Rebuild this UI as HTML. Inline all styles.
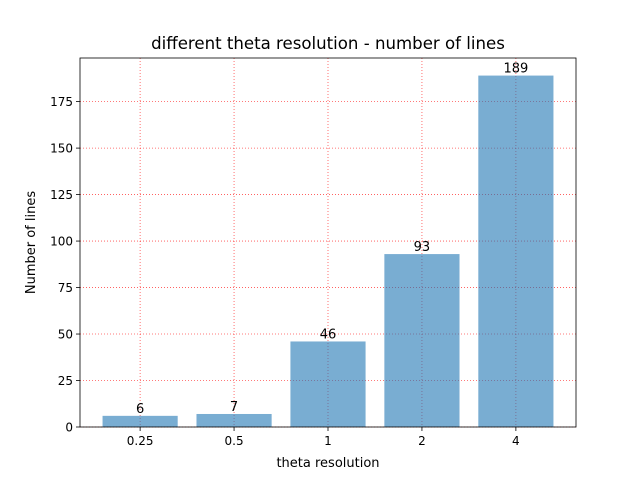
<!DOCTYPE html>
<html><head><meta charset="utf-8"><style>
body{margin:0;background:#fff;}
svg text{font-family:"DejaVu Sans","Liberation Sans",sans-serif;}
</style></head><body>
<svg id="chart" width="640" height="480" xmlns="http://www.w3.org/2000/svg">
<rect width="640" height="480" fill="#fff"/>
<text x="328" y="49" text-anchor="middle" font-size="16.6" fill="#000">different theta resolution - number of lines</text>
<text x="328" y="467" text-anchor="middle" font-size="13">theta resolution</text>
<text transform="translate(35,242.5) rotate(-90)" text-anchor="middle" font-size="13">Number of lines</text>
<g id="grid"></g><g id="bars"></g><g id="axes"></g>
</svg>
<script>
const categories = ["0.25","0.5","1","2","4"];
const values = [6,7,46,93,189];
const yTicks = [0,25,50,75,100,125,150,175];

const L=80,R=576,T=58,B=427;
const ymax=189*1.05;
const xmin=-0.64,xmax=4.64;
const sx=i=>L+(i-xmin)/(xmax-xmin)*(R-L);
const sy=v=>B-v/ymax*(B-T);
const NS="http://www.w3.org/2000/svg";
function mk(tag,attrs,parent,text){const e=document.createElementNS(NS,tag);for(const k in attrs)e.setAttribute(k,attrs[k]);if(text!==undefined)e.textContent=text;document.getElementById(parent).appendChild(e);return e;}

values.forEach((v,i)=>{
  const b=mk('rect',{x:sx(i-0.4),y:sy(v),width:sx(i+0.4)-sx(i-0.4),height:B-sy(v),fill:'#1f77b4','fill-opacity':0.6},'bars');
  
  
  const t=mk('text',{x:sx(i),y:sy(v)-3,'text-anchor':'middle','font-size':13},'bars',String(v));
  
  
});
categories.forEach((c,i)=>{
  const x=sx(i);
  const g=mk('line',{x1:x,x2:x,y1:T,y2:B,stroke:'red','stroke-opacity':0.7,'stroke-width':0.8,'stroke-dasharray':'1,2'},'grid');
  
  
  mk('line',{x1:x,x2:x,y1:B,y2:B+4,stroke:'#000','stroke-width':0.8},'axes');
  const t=mk('text',{x:x,y:B+18,'text-anchor':'middle','font-size':12},'axes',c);
  
  
});
yTicks.forEach(v=>{
  const y=sy(v);
  const g=mk('line',{x1:L,x2:R,y1:y,y2:y,stroke:'red','stroke-opacity':0.7,'stroke-width':0.8,'stroke-dasharray':'1,2'},'grid');
  
  
  mk('line',{x1:L-4,x2:L,y1:y,y2:y,stroke:'#000','stroke-width':0.8},'axes');
  const t=mk('text',{x:L-7,y:y+4.5,'text-anchor':'end','font-size':12},'axes',String(v));
  
  
});
const f=mk('rect',{x:L,y:T,width:R-L,height:B-T,fill:'none',stroke:'#000','stroke-width':0.8},'axes');


</script>
</body></html>
